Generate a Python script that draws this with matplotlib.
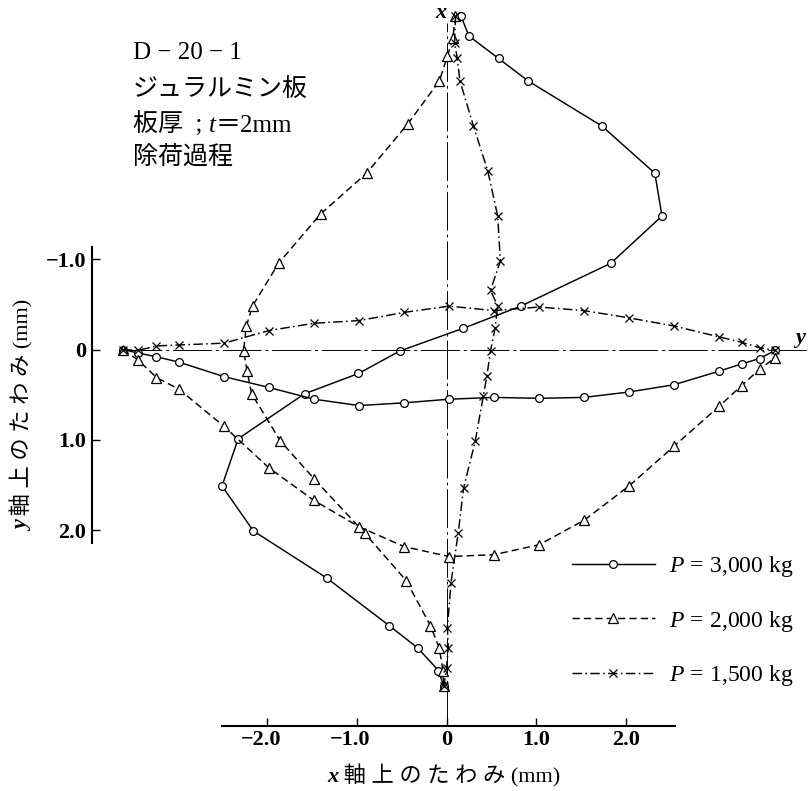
import matplotlib
matplotlib.use("Agg")
import matplotlib.pyplot as plt

plt.rcParams['font.family'] = ['Liberation Serif', 'Noto Sans CJK JP']
plt.rcParams['mathtext.fontset'] = 'custom'
plt.rcParams['mathtext.rm'] = 'Liberation Serif'
plt.rcParams['mathtext.it'] = 'Liberation Serif:italic'
plt.rcParams['mathtext.bf'] = 'Liberation Serif:italic:bold'

# --- data ---------------------------------------------------------------
# deflection along the plate x axis: station (mm, upward) and deflection (mm)
xs_3000 = [149, 140, 130, 120, 100, 79, 60, 39, 20, 10, 0, -10, -19, -39, -60, -80, -101, -122, -132, -142, -149]
dx_3000 = [0.16, 0.25, 0.58, 0.91, 1.73, 2.32, 2.40, 1.83, 0.83, 0.18, -0.52, -0.98, -1.58, -2.32, -2.50, -2.15, -1.33, -0.64, -0.32, -0.09, -0.03]

xs_2000 = [149, 139, 131, 120, 101, 79, 61, 39, 20, 11, 0, -9, -19, -40, -57, -81, -102, -122, -132, -142, -149]
dx_2000 = [0.10, 0.07, 0.01, -0.08, -0.43, -0.89, -1.40, -1.87, -2.16, -2.23, -2.26, -2.22, -2.17, -1.85, -1.47, -0.91, -0.45, -0.18, -0.08, -0.04, -0.03]

xs_1500 = [149, 137, 130, 120, 100, 80, 60, 40, 27, 20, 10, 0, -11, -20, -40, -61, -81, -103, -123, -132, -141, -149]
dx_1500 = [0.10, 0.09, 0.12, 0.15, 0.30, 0.46, 0.57, 0.60, 0.49, 0.57, 0.54, 0.49, 0.45, 0.41, 0.32, 0.19, 0.13, 0.05, 0.01, 0.02, 0.00, -0.03]

# deflection along the plate y axis: station (mm) and deflection (mm, downward)
ys = [-145, -138, -130, -120, -100, -80, -60, -40, -20, 0, 20, 40, 60, 80, 100, 120, 130, 138, 145]
dy_3000 = [0.00, 0.04, 0.08, 0.14, 0.30, 0.42, 0.55, 0.62, 0.59, 0.55, 0.53, 0.54, 0.53, 0.47, 0.39, 0.24, 0.16, 0.10, 0.01]
dy_2000 = [0.00, 0.12, 0.31, 0.44, 0.85, 1.31, 1.67, 1.96, 2.18, 2.29, 2.27, 2.16, 1.89, 1.51, 1.07, 0.63, 0.40, 0.22, 0.09]
dy_1500 = [0.00, 0.01, -0.04, -0.05, -0.07, -0.21, -0.29, -0.32, -0.41, -0.48, -0.43, -0.47, -0.43, -0.35, -0.26, -0.14, -0.08, -0.02, 0.01]

labels = [r"$P\,=\,$3,000 kg", r"$P\,=\,$2,000 kg", r"$P\,=\,$1,500 kg"]
x_ticks = [-2.0, -1.0, 0.0, 1.0, 2.0]
x_ticklabels = ["−2.0", "−1.0", "0", "1.0", "2.0"]
y_ticks = [-1.0, 0.0, 1.0, 2.0]
y_ticklabels = ["−1.0", "0", "1.0", "2.0"]
axis_word = " 軸 上 の た わ み (mm)"

# --- layout (pixels) -----------------------------------------------------
W, H = 809, 791
L, R, T, B = 92, 809, 0, 726
X0, XS = 446.5, 89.8      # x-deflection zero / px per mm
Y0, YS = 349.5, 90.4      # y-deflection zero / px per mm
SX0, SY0, SS = 449, 351, 2.25   # station centres / px per mm

fig = plt.figure(figsize=(W / 100, H / 100), dpi=100)
rect = [L / W, 1 - B / H, (R - L) / W, (B - T) / H]
ax1 = fig.add_axes(rect)
ax2 = fig.add_axes(rect)
for ax in (ax1, ax2):
    ax.patch.set_visible(False)
    for s in ax.spines.values():
        s.set_visible(False)

ax1.set_xlim((L - X0) / XS, (R - X0) / XS)
ax1.set_ylim((SY0 - B) / SS, (SY0 - T) / SS)
ax2.set_xlim((L - SX0) / SS, (R - SX0) / SS)
ax2.set_ylim((B - Y0) / YS, (T - Y0) / YS)

# centre lines
chain_ls = (0, (40, 4, 3, 4))
lo, hi = ax1.get_ylim()
ax1.axvline(0, ymin=0, ymax=(146 - lo) / (hi - lo), color='black', lw=0.7, ls=chain_ls, zorder=1)
lo, hi = ax2.get_xlim()
ax2.axhline(0, xmin=(-145 - lo) / (hi - lo), xmax=1, color='black', lw=0.7, ls=chain_ls, zorder=1)

styles = [
    dict(ls='-', marker='o', ms=5.6),
    dict(ls=(0, (5, 2.8)), marker='^', ms=6.8),
    dict(ls=(0, (6.5, 2.3, 1.1, 2.3)), marker='x', ms=5.8),
]
kw = dict(color='black', lw=1.05, mfc='white', mec='black', mew=0.9)

for xs, dx, st, lab in zip([xs_3000, xs_2000, xs_1500], [dx_3000, dx_2000, dx_1500], styles, labels):
    ax1.plot(dx, xs, label=lab, **st, **kw)
for dy, st in zip([dy_3000, dy_2000, dy_1500], styles):
    ax2.plot(ys, dy, **st, **kw)

# bottom axis (x deflection)
ax1.spines['bottom'].set_visible(True)
ax1.spines['bottom'].set_linewidth(1.5)
ax1.spines['bottom'].set_bounds((222 - X0) / XS, (675 - X0) / XS)
ax1.set_yticks([])
ax1.set_xticks(x_ticks)
ax1.xaxis.set_ticks_position('bottom')
ax1.tick_params(axis='x', direction='in', length=6, width=1, labelbottom=False)
for v, lab in zip(x_ticks, x_ticklabels):
    off = -4.5 if lab.startswith('−') else 0
    ax1.annotate(lab, xy=(v, 0), xycoords=('data', 'axes fraction'), xytext=(off, -3),
                 textcoords='offset points', ha='center', va='top', fontsize=16, fontweight='bold')

# left axis (y deflection)
ax2.spines['left'].set_visible(True)
ax2.spines['left'].set_linewidth(1.5)
ax2.spines['left'].set_bounds((247 - Y0) / YS, (543 - Y0) / YS)
ax2.set_xticks([])
ax2.set_yticks(y_ticks, y_ticklabels)
ax2.yaxis.set_ticks_position('left')
ax2.tick_params(axis='y', direction='in', length=6, width=1, pad=4, labelsize=16)
for t in ax2.get_yticklabels():
    t.set_fontweight('bold')

ax1.legend(loc='center left', bbox_to_anchor=(572 / W, 1 - 621 / H), bbox_transform=fig.transFigure,
           frameon=False, borderpad=0, borderaxespad=0, handlelength=3.5, handletextpad=0.6,
           labelspacing=1.25, fontsize=17, numpoints=1)


def chain(parts, x, y, rot=0, size=16):
    # parts: list of (text, style, weight); placed one after another
    prev = None
    for s, style, weight in parts:
        fkw = dict(fontsize=size, fontstyle=style, fontweight=weight, rotation=rot,
                   annotation_clip=False)
        if prev is None:
            if rot == 0:
                prev = ax1.annotate(s, xy=(x, H - y), xycoords='figure pixels', ha='left', va='bottom', **fkw)
            else:
                prev = ax1.annotate(s, xy=(x, H - y), xycoords='figure pixels', ha='right', va='bottom', **fkw)
        else:
            if rot == 0:
                prev = ax1.annotate(s, xy=(1, 0), xycoords=prev, ha='left', va='bottom', **fkw)
            else:
                prev = ax1.annotate(s, xy=(1, 1), xycoords=prev, ha='right', va='bottom', **fkw)


# texts
fig.text(441 / W, 1 - 13 / H, r"$\mathbf{x}$", fontsize=16, ha='center', va='center')
fig.text(793 / W, 1 - 341 / H, r"$\mathbf{y}$", fontsize=16, ha='left', va='center')
chain([("x", 'italic', 'bold'), (axis_word, 'normal', 'normal')], 327, 787)
chain([("y", 'italic', 'bold'), (axis_word, 'normal', 'normal')], 33, 531, rot=90)

fig.text(133 / W, 1 - 53 / H, "D − 20 − 1", fontsize=18, ha='left', va='center')
fig.text(133 / W, 1 - 90 / H, "ジュラルミン板", fontsize=18, ha='left', va='center')
chain([("板厚  ; ", 'normal', 'normal'), ("t", 'italic', 'normal'), ("＝2mm", 'normal', 'normal')],
      133, 137, size=18)
fig.text(133 / W, 1 - 157 / H, "除荷過程", fontsize=18, ha='left', va='center')

fig.savefig("out.png", dpi=100)
